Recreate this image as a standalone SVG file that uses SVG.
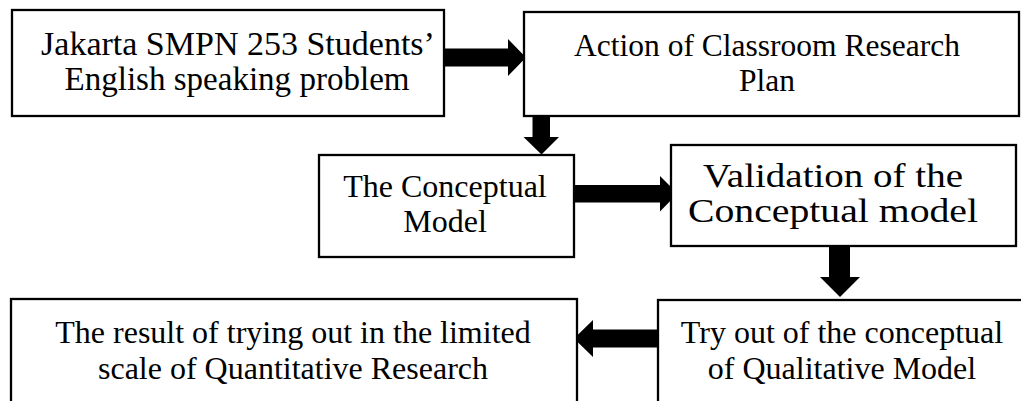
<svg xmlns="http://www.w3.org/2000/svg" width="1021" height="401" viewBox="0 0 1021 401">
  <defs>
    <style>
      .box { fill: #ffffff; stroke: #000000; stroke-width: 2.3; }
      .lbl { font-family: "Liberation Serif", "Times New Roman", serif; font-size: 32px; fill: #000000; text-anchor: middle; }
      .big { font-size: 34px; }
      .mid { font-size: 31.5px; }
      .wide { font-size: 34px; }
      .arrow { fill: #000000; stroke: none; }
    </style>
  </defs>
  <rect width="1021" height="401" fill="#ffffff"/>

  <!-- block arrows -->
  <g id="connectors">
    <!-- problem -> plan -->
    <polygon class="arrow" points="444,48.5 508,48.5 508,39 526,57.5 508,76 508,66.5 444,66.5"/>
    <!-- plan -> conceptual model -->
    <polygon class="arrow" points="532.5,105 550,105 550,137 559,137 541.5,154.5 523.5,137 532.5,137"/>
    <!-- conceptual model -> validation -->
    <polygon class="arrow" points="575,185 660,185 660,176 677.5,193.5 660,211.5 660,202.5 575,202.5"/>
    <!-- validation -> try out -->
    <polygon class="arrow" points="829,237 850,237 850,277 860,277 840,297 820,277 829,277"/>
    <!-- try out -> result -->
    <polygon class="arrow" points="657,329.5 593,329.5 593,320 574,338.5 593,357 593,347.5 657,347.5"/>
  </g>

  <g id="node-problem">
    <rect class="box" x="12" y="10" width="432" height="106"/>
    <text class="lbl big" x="238" y="55">Jakarta SMPN 253 Students’</text>
    <text class="lbl big" x="237" y="90" textLength="345" lengthAdjust="spacingAndGlyphs">English speaking problem</text>
  </g>

  <g id="node-plan">
    <rect class="box" x="524" y="12" width="495" height="104"/>
    <text class="lbl mid" x="767" y="56">Action of Classroom Research</text>
    <text class="lbl mid" x="767" y="91">Plan</text>
  </g>

  <g id="node-conceptual">
    <rect class="box" x="319" y="155" width="255" height="102"/>
    <text class="lbl" x="445" y="197">The Conceptual</text>
    <text class="lbl" x="445" y="232">Model</text>
  </g>

  <g id="node-validation">
    <rect class="box" x="671" y="145" width="345" height="101"/>
    <text class="lbl wide" x="833" y="187" textLength="260" lengthAdjust="spacingAndGlyphs">Validation of the</text>
    <text class="lbl wide" x="833" y="222" textLength="290" lengthAdjust="spacingAndGlyphs">Conceptual model</text>
  </g>

  <g id="node-tryout">
    <rect class="box" x="658" y="300" width="400" height="150"/>
    <text class="lbl" x="842" y="343">Try out of the conceptual</text>
    <text class="lbl" x="842" y="379">of Qualitative Model</text>
  </g>

  <g id="node-result">
    <rect class="box" x="11" y="299" width="566" height="150"/>
    <text class="lbl" x="293" y="343">The result of trying out in the limited</text>
    <text class="lbl" x="293" y="379">scale of Quantitative Research</text>
  </g>
</svg>
